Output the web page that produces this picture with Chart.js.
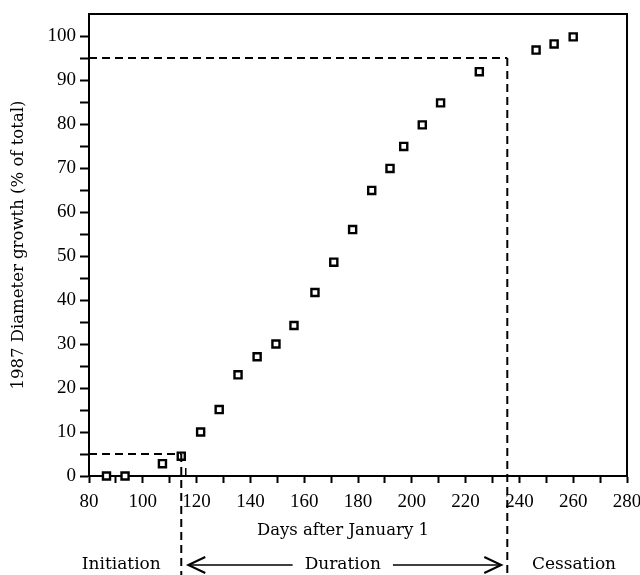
<!DOCTYPE html>
<html><head><meta charset="utf-8">
<script src="https://cdn.jsdelivr.net/npm/chart.js@4.4.0/dist/chart.umd.min.js"></script>
<style>html,body{margin:0;padding:0;background:#fff}#wrap{width:640px;height:575px}</style>
</head><body><div id="wrap"><canvas id="c" width="640" height="575"></canvas></div>
<script>
// ---- data ----
const days   = [86.5, 93.4, 107.3, 114.3, 121.5, 128.4, 135.4, 142.5, 149.5, 156.2, 164.0, 171.0, 178.0, 185.1, 191.9, 197.0, 203.9, 210.7, 225.1, 246.2, 252.9, 260.0];
const growth = [0, 0, 2.8, 4.5, 10, 15.1, 23, 27.1, 30, 34.2, 41.7, 48.6, 56, 64.9, 69.9, 74.9, 79.8, 84.8, 91.9, 96.8, 98.2, 99.8];
const xTickLabels = [80, 100, 120, 140, 160, 180, 200, 220, 240, 260, 280];
const yTickLabels = [0, 10, 20, 30, 40, 50, 60, 70, 80, 90, 100];
const phaseDays   = [114.3, 235.5];   // end of initiation, end of duration
const phaseLevels = [5, 95];          // % of total growth at those days
const phaseNames  = ['Initiation', 'Duration', 'Cessation'];
const phaseLabelDays = [92, 260.3];   // centres of the Initiation / Cessation labels
const xTitle = 'Days after January 1';
const xTitleDay = 174.4;
const yTitle = '1987 Diameter growth (% of total)';

const pts = days.map((d, i) => ({x: d, y: growth[i]}));
const SERIF = '"DejaVu Serif", serif';
const TICKF = '"Liberation Serif", serif';

const decor = {
  id: 'decor',
  afterDraw(chart) {
    const ctx = chart.ctx, a = chart.chartArea;
    const xs = chart.scales.x, ys = chart.scales.y;
    const H = chart.height;
    ctx.save();
    ctx.strokeStyle = '#000';
    ctx.lineWidth = 2;
    // top and right frame
    ctx.beginPath();
    ctx.moveTo(a.left - 1, a.top);
    ctx.lineTo(a.right, a.top);
    ctx.lineTo(a.right, a.bottom);
    ctx.stroke();
    // dashed guides
    ctx.setLineDash([8, 5]);
    for (let i = 0; i < phaseDays.length; i++) {
      const px = xs.getPixelForValue(phaseDays[i]);
      const py = ys.getPixelForValue(phaseLevels[i]);
      ctx.beginPath();
      ctx.moveTo(a.left, py);
      ctx.lineTo(px, py);
      ctx.stroke();
      ctx.beginPath();
      ctx.moveTo(px, py);
      ctx.lineTo(px, H);
      ctx.stroke();
    }
    ctx.setLineDash([]);
    // small double tick at start of growth
    const p0 = xs.getPixelForValue(phaseDays[0]);
    ctx.lineWidth = 1.5;
    ctx.beginPath();
    ctx.moveTo(p0 + 4.5, a.bottom - 8);
    ctx.lineTo(p0 + 4.5, a.bottom);
    ctx.stroke();

    // x title
    ctx.fillStyle = '#000';
    ctx.textAlign = 'center';
    ctx.textBaseline = 'middle';
    ctx.font = '16.5px ' + SERIF;
    ctx.fillText(xTitle, xs.getPixelForValue(xTitleDay), a.bottom + 55);

    // phase annotations
    const ay = a.bottom + 89;
    ctx.font = '17px ' + SERIF;
    ctx.fillText(phaseNames[0], xs.getPixelForValue(phaseLabelDays[0]), ay);
    ctx.fillText(phaseNames[2], xs.getPixelForValue(phaseLabelDays[1]), ay);
    const p1 = xs.getPixelForValue(phaseDays[1]);
    const l = p0 + 7, r = p1 - 6, mid = (l + r) / 2 - 2;
    ctx.fillText(phaseNames[1], mid, ay);
    const half = ctx.measureText(phaseNames[1]).width / 2 + 12;
    ctx.lineWidth = 1.5;
    ctx.beginPath();
    ctx.moveTo(l, ay); ctx.lineTo(mid - half, ay);
    ctx.moveTo(mid + half, ay); ctx.lineTo(r, ay);
    ctx.stroke();
    ctx.lineWidth = 2;
    ctx.beginPath();
    ctx.moveTo(l + 17, ay - 8); ctx.lineTo(l, ay); ctx.lineTo(l + 17, ay + 8);
    ctx.moveTo(r - 17, ay - 8); ctx.lineTo(r, ay); ctx.lineTo(r - 17, ay + 8);
    ctx.stroke();
    ctx.restore();
  }
};

new Chart(document.getElementById('c'), {
  type: 'scatter',
  data: {
    datasets: [
      { data: pts, pointStyle: 'rect', radius: 5, borderWidth: 2.4, borderColor: '#000', backgroundColor: '#fff', clip: false },
      { data: pts, pointStyle: 'rect', radius: 1.5, borderWidth: 0, backgroundColor: '#000', clip: false }
    ]
  },
  options: {
    responsive: false,
    animation: false,
    devicePixelRatio: 1,
    events: [],
    layout: { padding: { left: 0, top: 14, right: 13, bottom: 0 } },
    plugins: { legend: { display: false }, tooltip: { enabled: false } },
    scales: {
      x: {
        type: 'linear', min: 80, max: 280,
        afterFit: s => { s.height = 99; s.paddingLeft = 0; s.paddingRight = 0; },
        ticks: {
          stepSize: 10, autoSkip: false, maxRotation: 0, color: '#000', padding: 8,
          font: { family: TICKF, size: 19 },
          callback: v => xTickLabels.includes(v) ? String(v) : ''
        },
        grid: { drawOnChartArea: false, drawTicks: true, tickLength: 7, tickWidth: 2, tickColor: '#000' },
        border: { display: true, color: '#000', width: 2 }
      },
      y: {
        type: 'linear', min: 0, max: 105,
        afterFit: s => { s.width = 89; s.paddingTop = 0; s.paddingBottom = 0; },
        afterBuildTicks: s => { s.ticks = s.ticks.filter(t => t.value <= 100); },
        ticks: {
          stepSize: 5, autoSkip: false, color: '#000', padding: 4,
          font: { family: TICKF, size: 19 },
          callback: v => yTickLabels.includes(v) ? String(v) : ''
        },
        grid: { drawOnChartArea: false, drawTicks: true, tickLength: 9, tickWidth: 2, tickColor: '#000' },
        border: { display: true, color: '#000', width: 2 },
        title: { display: true, text: yTitle, color: '#000', font: { family: SERIF, size: 16.5 }, padding: { top: 9, bottom: 0 } }
      }
    }
  },
  plugins: [decor]
});
</script>
</body></html>
